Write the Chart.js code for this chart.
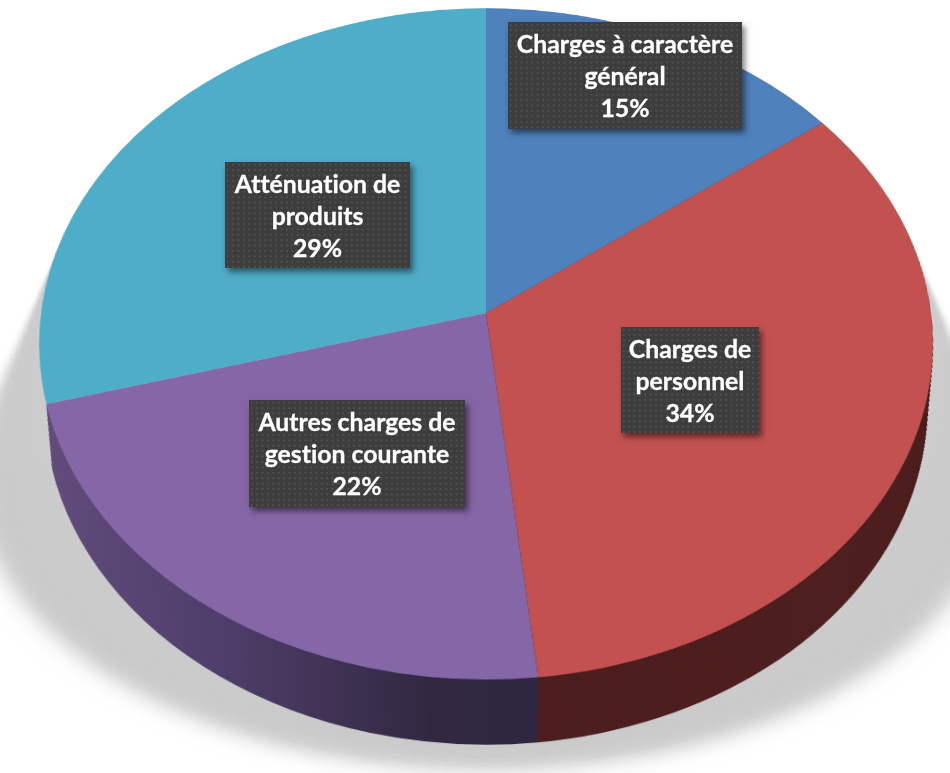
<!DOCTYPE html>
<html>
<head>
<meta charset="utf-8">
<script src="https://cdn.jsdelivr.net/npm/chart.js@4"></script>
<style>
  html, body { margin: 0; background: #fff; }
  body { position: relative; width: 950px; height: 773px; overflow: hidden; }
  /* pie is drawn flat, the tilt is only this css transform */
  #pie {
    position: absolute; left: -214px; top: -387px;
    transform: perspective(3208px) rotateX(41.6deg);
  }
  .box {
    position: absolute; box-sizing: border-box; color: #fff;
    font: bold 24.8px/32px Lato, sans-serif; font-variant-ligatures: none;
    text-align: center; padding-top: 6px;
    -webkit-text-stroke: 0.3px #fff;
    background-color: #3d3d3d;
    background-image: radial-gradient(circle, #525252 0.9px, transparent 1.3px);
    background-size: 5.4px 5.4px;
    box-shadow: 3px 4px 6px rgba(0,0,0,0.5);
    white-space: nowrap;
  }
</style>
</head>
<body>
<canvas id="pie" width="1400" height="1400"></canvas>
<script>
const categoryLines = [
  ["Charges à caractère", "général"],
  ["Charges de", "personnel"],
  ["Autres charges de", "gestion courante"],
  ["Atténuation de", "produits"]
];
const values = [14.7, 33.6, 22.4, 29.3];
const sliceColors = ["#4f81bd", "#c2514f", "#8566a6", "#4eadc8"];
// last one is on the far side, it only peeks out at the left so it takes the shadow colour
const wallColors = ["#27405e", "#4d1f1e", null, "#cdcdcd"];
// left, top, width, height of the label boxes
const boxes = [
  [508, 22, 234, 107],
  [621, 327, 138, 106],
  [249, 400, 216, 107],
  [225, 162, 185, 106]
];

const R = 445;
const DEPTH = 84;

const extrude = {
  id: "extrude",
  beforeDatasetsDraw(chart) {
    const ctx = chart.ctx;
    const arcs = chart.getDatasetMeta(0).data;
    const cx = arcs[0].x, cy = arcs[0].y;

    // soft shadow under the pie
    const steps = 40;
    for (let i = steps; i >= 0; i--) {
      const t = i / steps;
      ctx.save();
      ctx.filter = "blur(" + (t * 16).toFixed(1) + "px)";
      ctx.fillStyle = "#cdcdcd";
      ctx.beginPath();
      ctx.ellipse(cx, cy + 205 * t, R * (1 + 0.055 * t), R * (1 - 0.27 * t), 0, 0, Math.PI * 2);
      ctx.fill();
      ctx.restore();
    }

    // side wall: same arcs repeated downwards in dark colours
    const purple = ctx.createLinearGradient(cx - R, 0, cx + 20, 0);
    purple.addColorStop(0, "#634d7e");
    purple.addColorStop(0.45, "#4e3d68");
    purple.addColorStop(0.85, "#312840");
    purple.addColorStop(1, "#2f2640");
    for (let d = DEPTH; d > 0; d--) {
      const f = 1 - 0.03 * d / DEPTH;
      ctx.save();
      ctx.translate(cx, cy + d);
      ctx.scale(f, f);
      ctx.translate(-cx, -cy);
      arcs.forEach((arc, i) => {
        const keep = arc.options;
        arc.options = { ...keep, backgroundColor: wallColors[i] || purple };
        arc.draw(ctx);
        arc.options = keep;
      });
      ctx.restore();
    }
  }
};

new Chart(document.getElementById("pie"), {
  type: "pie",
  data: {
    labels: categoryLines.map(l => l.join(" ")),
    datasets: [{ data: values, backgroundColor: sliceColors, borderWidth: 0 }]
  },
  options: {
    responsive: false,
    animation: false,
    layout: { padding: 700 - R },
    plugins: { legend: { display: false }, tooltip: { enabled: false } }
  },
  plugins: [extrude]
});

categoryLines.forEach((lines, i) => {
  const b = boxes[i];
  const div = document.createElement("div");
  div.className = "box";
  div.style.left = b[0] + "px";
  div.style.top = b[1] + "px";
  div.style.width = b[2] + "px";
  div.style.height = b[3] + "px";
  div.innerHTML = lines.concat(Math.round(values[i]) + "%").join("<br>");
  document.body.appendChild(div);
});
</script>
</body>
</html>
